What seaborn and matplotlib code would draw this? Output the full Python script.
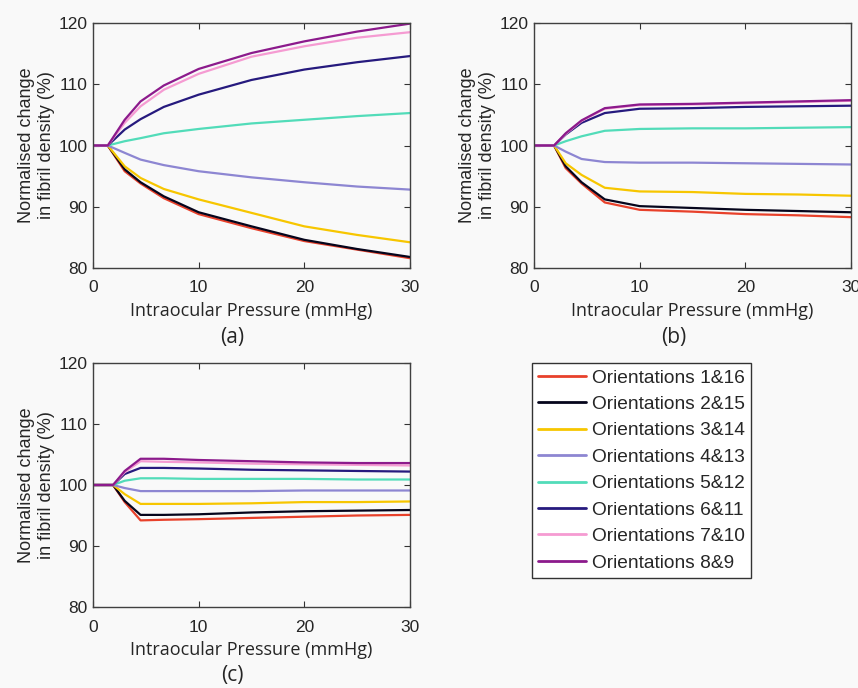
import numpy as np
import pandas as pd
import matplotlib
matplotlib.use("Agg")
import matplotlib.pyplot as plt
import seaborn as sns

# Orientation pairs and their line colours
orientations = ["Orientations 1&16", "Orientations 2&15", "Orientations 3&14",
                "Orientations 4&13", "Orientations 5&12", "Orientations 6&11",
                "Orientations 7&10", "Orientations 8&9"]
colors = ["#e8412b", "#05051c", "#f7c600", "#8d86d2", "#52dcb9",
          "#261a7e", "#f59bd2", "#8c1a8c"]

# Intraocular pressure sample points (mmHg)
pressure_a = [0, 1.4, 3, 4.5, 6.7, 10, 15, 20, 25, 30]
pressure_b = [0, 1.9, 3, 4.5, 6.7, 10, 15, 20, 25, 30]
pressure_c = [0, 1.9, 3, 4.5, 6.7, 10, 15, 20, 25, 30]

# (a) normalised change in fibril density (%)
a_1_16 = [100, 100, 95.8, 93.8, 91.4, 88.8, 86.5, 84.4, 83.0, 81.6]
a_2_15 = [100, 100, 96.1, 94.0, 91.7, 89.1, 86.8, 84.6, 83.1, 81.8]
a_3_14 = [100, 100, 96.6, 94.7, 92.9, 91.2, 89.0, 86.8, 85.4, 84.2]
a_4_13 = [100, 100, 98.8, 97.7, 96.8, 95.8, 94.8, 94.0, 93.3, 92.8]
a_5_12 = [100, 100, 100.7, 101.2, 102.0, 102.7, 103.6, 104.2, 104.8, 105.3]
a_6_11 = [100, 100, 102.6, 104.3, 106.3, 108.3, 110.7, 112.4, 113.6, 114.6]
a_7_10 = [100, 100, 103.7, 106.4, 109.1, 111.7, 114.5, 116.2, 117.6, 118.5]
a_8_9 = [100, 100, 104.2, 107.2, 109.8, 112.5, 115.1, 117.0, 118.6, 119.9]

# (b)
b_1_16 = [100, 100, 96.3, 93.8, 90.7, 89.5, 89.2, 88.8, 88.6, 88.3]
b_2_15 = [100, 100, 96.6, 94.0, 91.2, 90.1, 89.8, 89.5, 89.3, 89.1]
b_3_14 = [100, 100, 97.1, 95.2, 93.1, 92.5, 92.4, 92.1, 92.0, 91.8]
b_4_13 = [100, 100, 99.0, 97.8, 97.3, 97.2, 97.2, 97.1, 97.0, 96.9]
b_5_12 = [100, 100, 100.7, 101.5, 102.4, 102.7, 102.8, 102.8, 102.9, 103.0]
b_6_11 = [100, 100, 101.8, 103.7, 105.3, 106.0, 106.1, 106.3, 106.4, 106.5]
b_7_10 = [100, 100, 101.9, 104.0, 106.0, 106.6, 106.7, 106.9, 107.1, 107.3]
b_8_9 = [100, 100, 102.0, 104.1, 106.1, 106.7, 106.8, 107.0, 107.2, 107.4]

# (c)
c_1_16 = [100, 100, 97.2, 94.2, 94.3, 94.4, 94.6, 94.8, 95.0, 95.1]
c_2_15 = [100, 100, 97.4, 95.1, 95.1, 95.2, 95.5, 95.7, 95.8, 95.9]
c_3_14 = [100, 100, 98.5, 96.9, 96.9, 96.9, 97.0, 97.2, 97.2, 97.3]
c_4_13 = [100, 100, 99.5, 99.0, 99.0, 99.0, 99.0, 99.1, 99.1, 99.1]
c_5_12 = [100, 100, 100.7, 101.1, 101.1, 101.0, 101.0, 101.0, 100.9, 100.9]
c_6_11 = [100, 100, 101.8, 102.8, 102.8, 102.7, 102.5, 102.4, 102.3, 102.2]
c_7_10 = [100, 100, 102.1, 103.9, 103.8, 103.7, 103.5, 103.4, 103.3, 103.2]
c_8_9 = [100, 100, 102.3, 104.3, 104.3, 104.1, 103.9, 103.7, 103.6, 103.6]

panels = [
    ("(a)", pressure_a, [a_1_16, a_2_15, a_3_14, a_4_13, a_5_12, a_6_11, a_7_10, a_8_9]),
    ("(b)", pressure_b, [b_1_16, b_2_15, b_3_14, b_4_13, b_5_12, b_6_11, b_7_10, b_8_9]),
    ("(c)", pressure_c, [c_1_16, c_2_15, c_3_14, c_4_13, c_5_12, c_6_11, c_7_10, c_8_9]),
]

x_ticks = [0, 10, 20, 30]
y_ticks = [80, 90, 100, 110, 120]

sns.set_theme(style="ticks")
plt.rcParams["font.family"] = ["Liberation Sans", "DejaVu Sans"]
bg = "#f9f9f9"
ink = "#262626"

W, H = 858, 688
fig = plt.figure(figsize=(W / 100, H / 100), dpi=100, facecolor=bg)
axes_boxes = [
    (93 / W, 1 - 268 / H, 317 / W, 245 / H),
    (534 / W, 1 - 268 / H, 317 / W, 245 / H),
    (93 / W, 1 - 607 / H, 317 / W, 244 / H),
]
palette = dict(zip(orientations, colors))

for (label, pressure, series), box in zip(panels, axes_boxes):
    ax = fig.add_axes(box)
    ax.set_facecolor(bg)
    rows = []
    for name, vals in zip(orientations, series):
        for p, v in zip(pressure, vals):
            rows.append({"pressure": p, "density": v, "orientation": name})
    df = pd.DataFrame(rows)
    sns.lineplot(data=df, x="pressure", y="density", hue="orientation",
                 hue_order=orientations, palette=palette, linewidth=1.6,
                 ax=ax, legend=False, sort=False)
    ax.set_xlim(0, 30)
    ax.set_ylim(80, 120)
    ax.set_xticks(x_ticks)
    ax.set_yticks(y_ticks)
    ax.tick_params(direction="in", length=4, width=0.8, top=True, right=True,
                   labelsize=12.5, colors="#333333", labelcolor=ink)
    ax.tick_params(axis="x", pad=9)
    ax.tick_params(axis="y", pad=4)
    for sp in ax.spines.values():
        sp.set_visible(True)
        sp.set_color("#404040")
        sp.set_linewidth(1.0)
    ax.set_xlabel("Intraocular Pressure (mmHg)", fontsize=13, color=ink,
                  labelpad=5, family=["Open Sans", "DejaVu Sans"])
    ax.set_ylabel("Normalised change\nin fibril density (%)", fontsize=13,
                  color=ink, linespacing=1.2)
    ax.yaxis.set_label_coords(-0.121, 0.5)
    ax_w = box[2] * W
    ax_h = box[3] * H
    ax.text(0.5 - 19 / ax_w, -69 / ax_h, label, transform=ax.transAxes,
            ha="center", va="center", fontsize=15, color=ink,
            family=["Open Sans", "DejaVu Sans"])

handles = [plt.Line2D([0], [0], color=c, lw=2) for c in colors]
leg = fig.legend(handles, orientations, loc="upper left",
                 bbox_to_anchor=(532 / W, 1 - 363 / H), borderaxespad=0,
                 frameon=True, fancybox=False, edgecolor="#333333",
                 facecolor="white", framealpha=1, handlelength=2.5,
                 handletextpad=0.3, labelspacing=0.47, borderpad=0.32,
                 prop={"family": "Liberation Sans", "size": 13.8})
leg.get_frame().set_linewidth(1.0)

fig.savefig("out.png", dpi=100, facecolor=bg)
